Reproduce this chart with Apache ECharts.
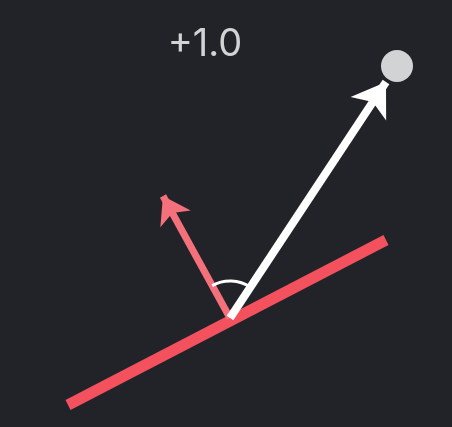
<!DOCTYPE html>
<html><head><meta charset="utf-8">
<script src="https://cdn.jsdelivr.net/npm/echarts@6/dist/echarts.min.js"></script>
<style>html,body{margin:0;background:#212329}#c{width:452px;height:427px}</style>
</head><body><div id="c"></div>
<script>
const surface = [[68,405],[386,240]];
const normalVec = [[230,318],[163,196]];
const incident = [[230,318],[386,82]];
const target = [[397,66]];
const origin = [230,318];
const label = '+1.0';
const labelPos = [205,45];

const chart = echarts.init(document.getElementById('c'));
const ang = p => Math.atan2(p[1]-origin[1], p[0]-origin[0]);
chart.setOption({
  backgroundColor:'#212329',
  animation:false,
  grid:{left:0,right:0,top:0,bottom:0},
  xAxis:{type:'value',min:0,max:452,show:false},
  yAxis:{type:'value',min:0,max:427,inverse:true,show:false},
  series:[
    {type:'lines',coordinateSystem:'cartesian2d',z:2,
     data:[{coords:surface}],lineStyle:{color:'#f4515f',width:11,opacity:1,cap:'butt'},symbol:'none'},
    {type:'lines',coordinateSystem:'cartesian2d',z:3,
     data:[{coords:normalVec}],lineStyle:{color:'#f4707a',width:7,opacity:1},symbol:['none','arrow'],symbolSize:[24,26]},
    {type:'lines',coordinateSystem:'cartesian2d',z:4,
     data:[{coords:incident}],lineStyle:{color:'#ffffff',width:8,opacity:1},symbol:['none','arrow'],symbolSize:[30,32]},
    {type:'scatter',z:5,data:target,symbolSize:32,itemStyle:{color:'#ffffff'}},
    {type:'custom',z:5,data:[origin],renderItem:(params,api)=>{
       const c=api.coord([api.value(0),api.value(1)]);
       return {type:'arc',shape:{cx:c[0],cy:c[1],r:37,startAngle:ang(normalVec[1]),endAngle:ang(incident[1]),clockwise:true},
         style:{stroke:'#ffffff',lineWidth:3,fill:null}};
    }},
    {type:'scatter',z:6,data:[labelPos],symbolSize:0,
     label:{show:true,position:'inside',formatter:label,color:'#ffffff',fontSize:38,fontFamily:'Inter'}}
  ]
});
</script></body></html>
